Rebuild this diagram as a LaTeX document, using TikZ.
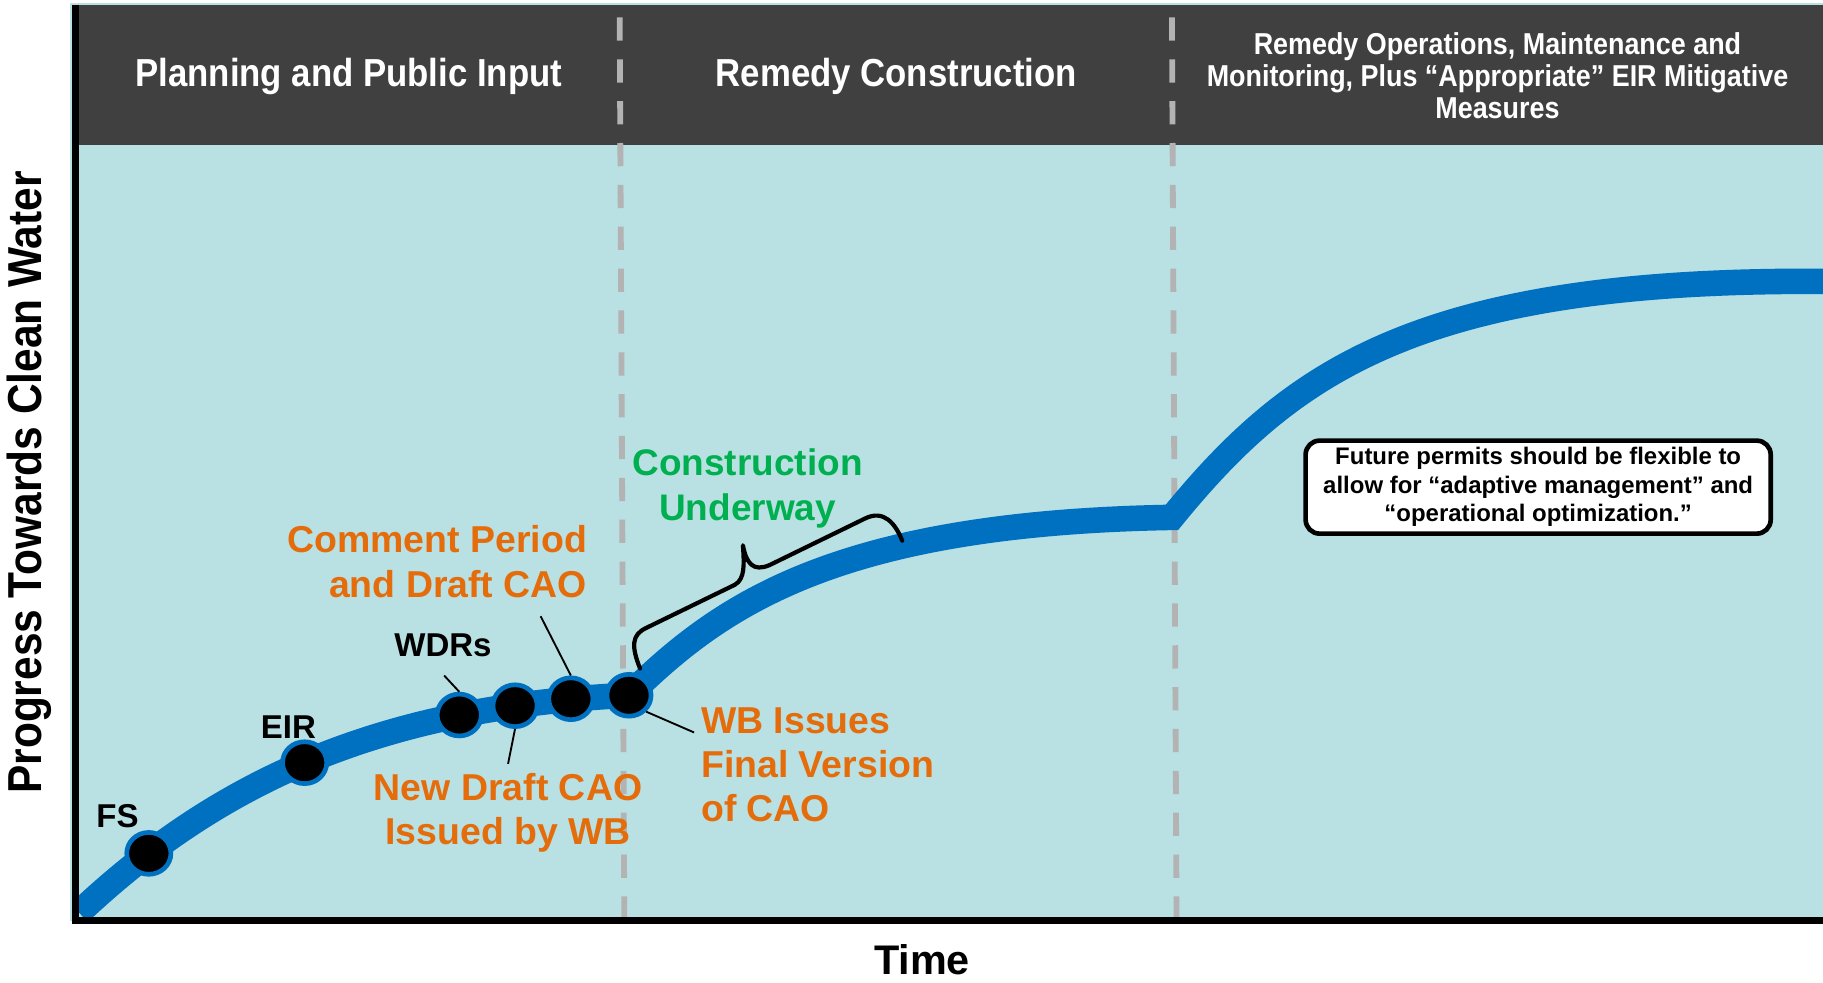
\documentclass[tikz,border=0pt]{standalone}
\usepackage{fontspec}
\setmainfont{Liberation Sans}
\newfontfamily\condensed{Liberation Sans}[FakeStretch=0.89]
\usetikzlibrary{shapes.geometric}
\definecolor{hdr}{HTML}{404040}
\definecolor{pane}{HTML}{B9E0E3}
\definecolor{trendblue}{HTML}{0070C0}
\definecolor{divider}{HTML}{B3B3B3}
\definecolor{orangetxt}{HTML}{E46C0A}
\definecolor{greentxt}{HTML}{00B050}
\begin{document}
\begin{tikzpicture}[x=0.5pt,y=-0.5pt,
  hdrtxt/.style={text=white, font=\condensed\bfseries\fontsize{16.8}{19}\selectfont, align=center},
  hdrsmall/.style={text=white, font=\condensed\bfseries\fontsize{13}{13.8}\selectfont, align=center},
  axislabel/.style={font=\condensed\bfseries\fontsize{20.5}{24}\selectfont},
  timelabel/.style={font=\bfseries\fontsize{17.8}{21}\selectfont, inner sep=0pt},
  milestonelabel/.style={font=\bfseries\fontsize{14.2}{17}\selectfont},
  orangelabel/.style={text=orangetxt, font=\bfseries\fontsize{16.1}{19}\selectfont},
  greenlabel/.style={text=greentxt, font=\bfseries\fontsize{15.9}{19.5}\selectfont, align=center},
  notebox/.style={draw=black, fill=white, line width=2pt, rounded corners=6pt,
    minimum width=200pt, minimum height=40pt, align=center, inner sep=2pt,
    font=\bfseries\fontsize{10.3}{12.3}\selectfont},
  milestone/.style={ellipse, fill=black, draw=trendblue, line width=2pt,
    minimum width=19pt, minimum height=18pt, inner sep=0pt},
  divline/.style={draw=divider, line width=2.5pt, dash pattern=on 10pt off 8pt},
  trend/.style={draw=trendblue, line width=11pt},
  leader/.style={draw=black, line width=0.8pt},
  bracket/.style={draw=black, line width=1.8pt, line cap=round, line join=round}]
\useasboundingbox (0,0) rectangle (1568,845);

% plotting area and header band
\fill[pane] (60,3) rectangle (1568,792);
\fill[hdr] (68,4) rectangle (1568,125);

% phase dividers
\draw[divline] (533,15) -- (537,792);
\draw[divline] (1008,15) -- (1012,792);

% phase titles
\node[hdrtxt] (plan) at (300,66) {Planning and Public Input};
\node[hdrtxt] (build) at (771,66) {Remedy Construction};
\node[hdrsmall] (operate) at (1288,65) {Remedy Operations, Maintenance and\\Monitoring, Plus “Appropriate” EIR Mitigative\\Measures};

% progress curve
\coordinate (c0) at (68,785);
\coordinate (c1) at (541,598);
\coordinate (c2) at (1008,445);
\coordinate (c3) at (1568,242);
\begin{scope}
  \clip (65,0) rectangle (1568,792);
  \draw[trend, line join=miter] (c0) .. controls (190,670) and (330,608) .. (c1)
    .. controls (620,520) and (720,450) .. (c2)
    .. controls (1110,320) and (1220,240) .. (c3);
\end{scope}

% milestones along the curve
\node[milestone] (fs)   at (128,734) {};
\node[milestone] (eir)  at (262,656) {};
\node[milestone] (wdr)  at (395,615) {};
\node[milestone] (ndc)  at (443,607) {};
\node[milestone] (cpd)  at (491,601) {};
\node[milestone] (fin)  at (541,598) {};

% axes
\draw[black, line width=3pt, line join=miter] (65,4) -- (65,792) -- (1568,792);

% axis titles
\node[axislabel, rotate=90] (ylab) at (25,415) {Progress Towards Clean Water};
\node[timelabel, anchor=base] (xlab) at (793,838) {Time};

% milestone labels
\node[milestonelabel] (fslab)  at (101,702) {FS};
\node[milestonelabel] (eirlab) at (248,625) {EIR};
\node[milestonelabel] (wdrlab) at (381,555) {WDRs};

\node[orangelabel, align=right, anchor=east] (cpdlab) at (512,483) {Comment Period\\and Draft CAO};
\node[orangelabel, align=center] (ndclab) at (437,699) {New Draft CAO\\Issued by WB};
\node[orangelabel, align=left, anchor=west] (finlab) at (596,658) {WB Issues\\Final Version\\of CAO};
\node[greenlabel] (underway) at (643,420) {Construction\\Underway};

% leader lines
\coordinate (wdrtip) at (382,581);
\coordinate (cpdtip) at (465,530);
\coordinate (ndctip) at (437,657);
\coordinate (fintip) at (597,630);
\draw[leader] (wdrtip) -- (wdr.north);
\draw[leader] (cpdtip) -- (cpd.north);
\draw[leader] (ndctip) -- (ndc.south);
\draw[leader] (fintip) -- (fin.south east);

% brace over the construction stretch
\draw[bracket] (550.5,575) .. controls (543,556) and (543,546) .. (556,540)
  -- (632,503) .. controls (641,498) and (640,485) .. (639,469)
  .. controls (642,485) and (648,492) .. (662,486)
  -- (744,446) .. controls (760,438) and (770,450) .. (776,465);

% note
\node[notebox] (note) at (1323,419) {Future permits should be flexible to\\allow for “adaptive management” and\\“operational optimization.”};
\end{tikzpicture}
\end{document}
